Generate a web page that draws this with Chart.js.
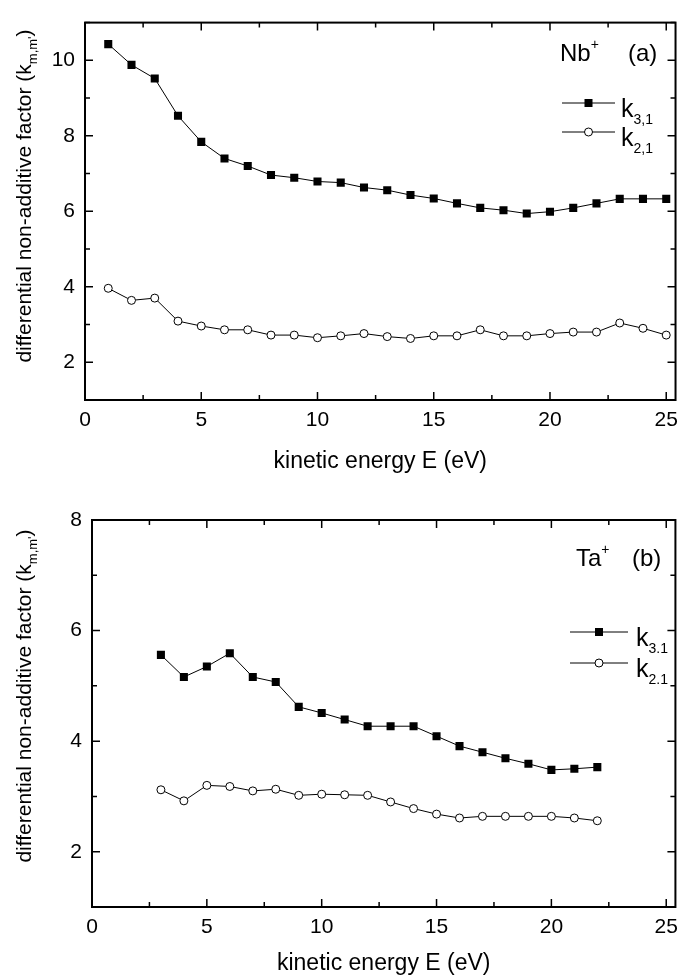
<!DOCTYPE html>
<html>
<head>
<meta charset="utf-8">
<script src="https://cdn.jsdelivr.net/npm/chart.js@4.4.0/dist/chart.umd.min.js"></script>
<style>
  body { margin: 0; background: #fff; }
  .panel { position: absolute; left: 0; width: 686px; height: 489px; }
</style>
</head>
<body>
<div class="panel" style="top:0"><canvas id="chartA" width="686" height="489"></canvas></div>
<div class="panel" style="top:489px"><canvas id="chartB" width="686" height="489"></canvas></div>
<script>
// panel (a) Nb+
const energyA = [1, 2, 3, 4, 5, 6, 7, 8, 9, 10, 11, 12, 13, 14, 15, 16, 17, 18, 19, 20, 21, 22, 23, 24, 25];
const k31A = [10.43, 9.88, 9.52, 8.53, 7.84, 7.40, 7.20, 6.96, 6.89, 6.79, 6.76, 6.63, 6.56, 6.43, 6.34,
              6.21, 6.09, 6.03, 5.94, 5.99, 6.09, 6.21, 6.33, 6.33, 6.33];
const k21A = [3.96, 3.64, 3.70, 3.09, 2.96, 2.86, 2.86, 2.72, 2.72, 2.65, 2.70, 2.76, 2.68, 2.63, 2.70,
              2.70, 2.86, 2.70, 2.70, 2.76, 2.80, 2.80, 3.04, 2.90, 2.72];

// panel (b) Ta+
const energyB = [3, 4, 5, 6, 7, 8, 9, 10, 11, 12, 13, 14, 15, 16, 17, 18, 19, 20, 21, 22];
const k31B = [5.56, 5.16, 5.35, 5.59, 5.16, 5.07, 4.62, 4.51, 4.39, 4.27, 4.27, 4.27, 4.09, 3.91, 3.80,
              3.69, 3.59, 3.48, 3.50, 3.53];
const k21B = [3.12, 2.92, 3.20, 3.18, 3.10, 3.13, 3.02, 3.04, 3.03, 3.02, 2.90, 2.78, 2.68, 2.61, 2.64,
              2.64, 2.64, 2.64, 2.61, 2.56];

const xTicks = [0, 5, 10, 15, 20, 25];
const yTicksA = [2, 4, 6, 8, 10];
const yTicksB = [2, 4, 6, 8];

const FONT = "'Liberation Sans', Arial, sans-serif";

function drawRich(ctx, x, y, parts) {
  // parts: [text, size, dy]
  let cx = x;
  parts.forEach(p => {
    ctx.font = p[1] + 'px ' + FONT;
    ctx.fillText(p[0], cx, y + (p[2] || 0));
    cx += ctx.measureText(p[0]).width;
  });
  return cx - x;
}

function richWidth(ctx, parts) {
  let w = 0;
  parts.forEach(p => { ctx.font = p[1] + 'px ' + FONT; w += ctx.measureText(p[0]).width; });
  return w;
}

const framePlugin = {
  id: 'frame',
  afterDraw(chart, args, o) {
    const ctx = chart.ctx, a = chart.chartArea;
    const xs = chart.scales.x, ys = chart.scales.y;
    ctx.save();
    ctx.strokeStyle = '#000';
    ctx.fillStyle = '#000';

    // ticks on all four sides, pointing inwards
    ctx.lineWidth = 1.5;
    ctx.beginPath();
    for (let v = 0; v <= xs.max + 0.001; v += 2.5) {
      const px = xs.getPixelForValue(v);
      const len = v % 5 === 0 ? 8 : 5;
      ctx.moveTo(px, a.bottom); ctx.lineTo(px, a.bottom - len);
      ctx.moveTo(px, a.top); ctx.lineTo(px, a.top + len);
    }
    for (let v = Math.ceil(ys.min); v <= ys.max + 0.001; v += 1) {
      const py = ys.getPixelForValue(v);
      const len = v % 2 === 0 ? 8 : 5;
      ctx.moveTo(a.left, py); ctx.lineTo(a.left + len, py);
      ctx.moveTo(a.right, py); ctx.lineTo(a.right - len, py);
    }
    ctx.stroke();

    ctx.lineWidth = 2;
    ctx.strokeRect(a.left, a.top, a.right - a.left, a.bottom - a.top);

    // x title
    ctx.textAlign = 'left';
    ctx.textBaseline = 'alphabetic';
    ctx.font = '23px ' + FONT;
    const xt = 'kinetic energy E (eV)';
    const xw = ctx.measureText(xt).width;
    ctx.fillText(xt, (a.left + a.right) / 2 - xw / 2, o.xTitleY);

    // y title with subscript, rotated
    const yParts = [['differential non-additive factor (k', 21, 0], ['m,m\'', 13, 6], [')', 21, 0]];
    const yw = richWidth(ctx, yParts);
    ctx.save();
    ctx.translate(o.yTitleX, o.yTitleC);
    ctx.rotate(-Math.PI / 2);
    drawRich(ctx, -yw / 2, 0, yParts);
    ctx.restore();

    // panel label
    drawRich(ctx, o.tagX, o.tagY, [[o.ion, 24, 0], ['+', 14, -12]]);
    drawRich(ctx, o.tagX2, o.tagY, [[o.tag, 24, 0]]);

    // legend
    o.legend.forEach((it, i) => {
      const ly = o.legY + i * o.legGap;
      ctx.lineWidth = 1;
      ctx.beginPath();
      ctx.moveTo(o.legX1, ly); ctx.lineTo(o.legX2, ly);
      ctx.stroke();
      const mx = (o.legX1 + o.legX2) / 2;
      if (it.square) {
        ctx.fillRect(mx - 4, ly - 4, 8, 8);
      } else {
        ctx.beginPath();
        ctx.arc(mx, ly, 4, 0, Math.PI * 2);
        ctx.fillStyle = '#fff';
        ctx.fill();
        ctx.stroke();
        ctx.fillStyle = '#000';
      }
      drawRich(ctx, o.legTextX, ly + 14, [['k', 25, 0], [it.sub, 14, 7]]);
    });
    ctx.restore();
  }
};

function makeChart(id, energy, k31, k21, yMin, yMax, yTicks, pad, yWidth, xHeight, opts) {
  const toXY = arr => energy.map((e, i) => ({ x: e, y: arr[i] }));
  return new Chart(document.getElementById(id), {
    type: 'line',
    data: {
      datasets: [
        {
          data: toXY(k31),
          borderColor: '#000',
          borderWidth: 1,
          pointStyle: 'rect',
          pointRadius: 5.7,
          pointBackgroundColor: '#000',
          pointBorderWidth: 0,
          tension: 0
        },
        {
          data: toXY(k21),
          borderColor: '#000',
          borderWidth: 1,
          pointStyle: 'circle',
          pointRadius: 4,
          pointBackgroundColor: '#fff',
          pointBorderColor: '#000',
          pointBorderWidth: 1,
          tension: 0
        }
      ]
    },
    options: {
      responsive: false,
      animation: false,
      events: [],
      layout: { padding: pad },
      plugins: {
        legend: { display: false },
        tooltip: { enabled: false },
        frame: opts
      },
      scales: {
        x: {
          type: 'linear',
          min: 0,
          max: 25.4,
          grid: { display: false, drawTicks: false },
          border: { display: false },
          ticks: { color: '#000', font: { family: FONT, size: 21 }, padding: 8, maxRotation: 0 },
          afterBuildTicks: s => { s.ticks = xTicks.map(v => ({ value: v })); },
          afterFit: s => { s.height = xHeight; }
        },
        y: {
          min: yMin,
          max: yMax,
          grid: { display: false, drawTicks: false },
          border: { display: false },
          ticks: { color: '#000', font: { family: FONT, size: 21 }, padding: 10 },
          afterBuildTicks: s => { s.ticks = yTicks.map(v => ({ value: v })); },
          afterFit: s => { s.width = yWidth; }
        }
      }
    },
    plugins: [framePlugin]
  });
}

makeChart('chartA', energyA, k31A, k21A, 1, 11, yTicksA,
  { top: 12, right: 5, bottom: 0, left: 0 }, 85, 89, {
    xTitleY: 468, yTitleX: 31, yTitleC: 196,
    ion: 'Nb', tag: '(a)', tagX: 560, tagX2: 628, tagY: 61,
    legX1: 562, legX2: 615, legY: 103, legGap: 29, legTextX: 621,
    legend: [{ square: true, sub: '3,1' }, { square: false, sub: '2,1' }]
  });

makeChart('chartB', energyB, k31B, k21B, 1, 8, yTicksB,
  { top: 31, right: 1, bottom: 0, left: 0 }, 92, 71, {
    xTitleY: 481, yTitleX: 31, yTitleC: 207,
    ion: 'Ta', tag: '(b)', tagX: 576, tagX2: 632, tagY: 77,
    legX1: 570, legX2: 628, legY: 143, legGap: 31, legTextX: 636,
    legend: [{ square: true, sub: '3.1' }, { square: false, sub: '2.1' }]
  });
</script>
</body>
</html>
